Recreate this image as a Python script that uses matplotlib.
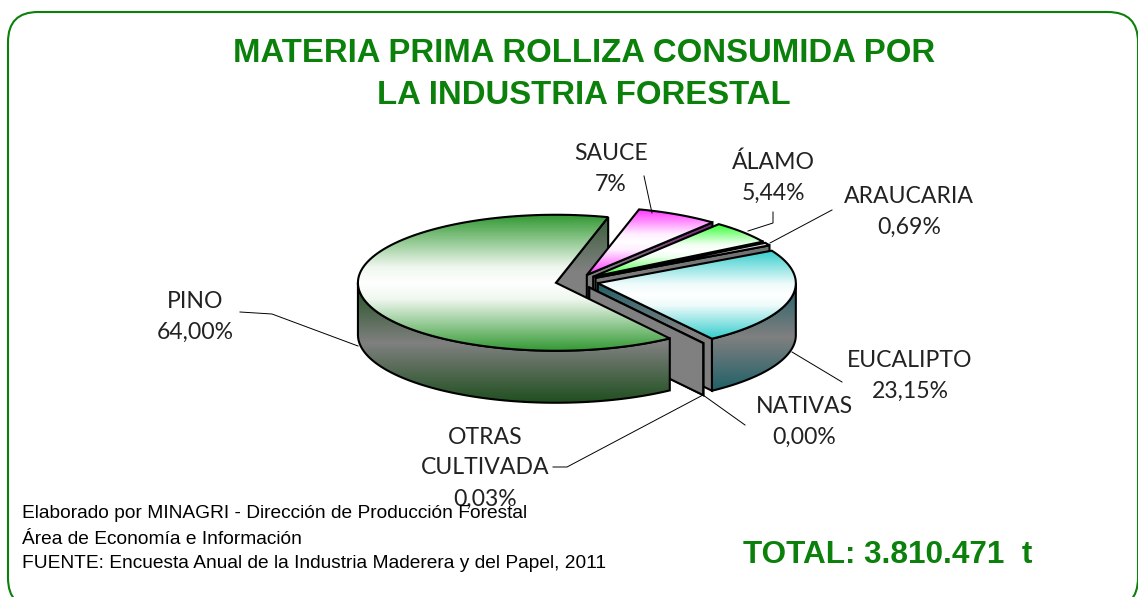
# -*- coding: utf-8 -*-
# exploded 3D pie, drawn by hand because matplotlib has no such pie type
import numpy as np
import matplotlib
matplotlib.use('Agg')
from matplotlib import pyplot as plt
from matplotlib.colors import to_rgb
from matplotlib.patches import Polygon, FancyBboxPatch

# slice order is clockwise, starting with pino
species = ['PINO', 'SAUCE', 'ÁLAMO', 'ARAUCARIA', 'EUCALIPTO', 'NATIVAS', 'OTRAS CULTIVADA']
shares = [64.00, 6.69, 5.44, 0.69, 23.15, 0.00, 0.03]
share_labels = ['64,00%', '7%', '5,44%', '0,69%', '23,15%', '0,00%', '0,03%']
top_colors = ['#339933', '#ff33ff', '#33ff33', '#cccccc', '#33cccc', '#808080', '#808080']
dark_colors = ['#1f4f1f', '#802080', '#208020', '#707070', '#1f6068', '#808080', '#808080']

title = ['MATERIA PRIMA ROLLIZA CONSUMIDA POR', 'LA INDUSTRIA FORESTAL']
total = 'TOTAL: 3.810.471  t'
footer = ['Elaborado por MINAGRI - Dirección de Producción Forestal',
          'Área de Economía e Información',
          'FUENTE: Encuesta Anual de la Industria Maderera y del Papel, 2011']

W, H = 1138, 597
cx, cy = 577.0, 281.5
a, b = 198.0, 68.0
depth = 52.0
explode = 0.108
start = 144.9

GREEN = '#0b800b'
GRAY = '#808080'

fig = plt.figure(figsize=(W / 100, H / 100), dpi=100)
ax = fig.add_axes([0, 0, 1, 1])
ax.set_xlim(0, W)
ax.set_ylim(H, 0)
ax.axis('off')

z = [10]


def next_z():
    z[0] += 1
    return z[0]


def rim(angle, x0, y0):
    t = np.radians(angle)
    return x0 + a * np.sin(t), y0 - b * np.cos(t)


def mix(col, amount):
    c = np.array(to_rgb(col))
    return tuple(c + (1 - c) * amount)


def fill_gradient(pts, stops, lw=1.5):
    # vertical gradient clipped to the polygon, then black outline
    pts = np.asarray(pts)
    y0, y1 = pts[:, 1].min(), pts[:, 1].max()
    pos = [s[0] for s in stops]
    cols = np.array([to_rgb(s[1]) for s in stops])
    u = np.linspace(0, 1, 256)
    img = np.stack([np.interp(u, pos, cols[:, i]) for i in range(3)], axis=1)[:, None, :]
    zo = next_z()
    im = ax.imshow(img, extent=(pts[:, 0].min(), pts[:, 0].max(), y1, y0),
                   aspect='auto', zorder=zo, interpolation='bilinear')
    poly = Polygon(pts, closed=True, fc='none', ec='black', lw=lw, zorder=zo + 0.5,
                   joinstyle='miter')
    ax.add_patch(poly)
    im.set_clip_path(poly)


def top_face(a1, a2, x0, y0, col):
    t = np.linspace(a1, a2, 120)
    xs, ys = rim(t, x0, y0)
    pts = np.vstack([[x0, y0], np.column_stack([xs, ys])])
    fill_gradient(pts, [(0, col), (0.38, mix(col, 0.92)), (0.5, '#ffffff'),
                        (0.62, mix(col, 0.92)), (1, col)])


def end_face(angle, x0, y0, dark):
    xr, yr = rim(angle, x0, y0)
    pts = [(x0, y0), (xr, yr), (xr, yr + depth), (x0, y0 + depth)]
    fill_gradient(pts, [(0, dark), (0.45, GRAY), (1, GRAY)])


def outer_wall(a1, a2, x0, y0, dark):
    # only the part of the rim facing the viewer
    lo, hi = max(a1, 90), min(a2, 270)
    if hi <= lo:
        return
    t = np.linspace(lo, hi, 120)
    xs, ys = rim(t, x0, y0)
    upper = np.column_stack([xs, ys])
    lower = np.column_stack([xs, ys + depth])[::-1]
    fill_gradient(np.vstack([upper, lower]), [(0, dark), (0.5, GRAY), (1, dark)])


# slice angles from the shares
edges = start + np.cumsum([0] + shares) * 3.6
slices = []
for i in range(len(shares)):
    a1, a2 = edges[i], edges[i + 1]
    if a1 >= 360:
        a1, a2 = a1 - 360, a2 - 360
    mid = np.radians((a1 + a2) / 2)
    x0 = cx + a * explode * np.sin(mid)
    y0 = cy - b * explode * np.cos(mid)
    slices.append((a1, a2, x0, y0))

# pino cut face goes behind the other slices
end_face(slices[0][1] - 360, slices[0][2], slices[0][3], '#3a5f3a')

for i in [1, 2, 3, 4, 5, 6]:
    a1, a2, x0, y0 = slices[i]
    end_face(a2, x0, y0, dark_colors[i])
    if a2 - a1 > 1:
        outer_wall(a1, a2, x0, y0, dark_colors[i])
        top_face(a1, a2, x0, y0, top_colors[i])

a1, a2, x0, y0 = slices[0]
outer_wall(a1, a2, x0, y0, dark_colors[0])
top_face(a1, a2, x0, y0, top_colors[0])

ax.set_xlim(0, W)
ax.set_ylim(H, 0)

# leader lines
leaders = [
    [(240, 312), (272, 314), (358, 346)],
    [(644, 176), (652, 213)],
    [(773, 212), (773, 223), (748, 231)],
    [(770, 243), (832, 210)],
    [(792, 352), (842, 382)],
    [(703, 395), (745, 425)],
    [(703, 395), (567, 467), (553, 467)],
]
for pts in leaders:
    xs, ys = zip(*pts)
    ax.plot(xs, ys, color='black', lw=0.7, zorder=60)

# slice labels
label_pos = [(195, 317), (611, 169), (773, 178), (909, 212), (910, 376), (804, 422), (485, 468)]
for i, name in enumerate(species):
    lines = name.split(' ')
    lines.append(share_labels[i])
    x, yc = label_pos[i]
    for k, line in enumerate(lines):
        ax.text(x, yc + (k - (len(lines) - 1) / 2) * 31, line, ha='center', va='center',
                fontsize=16.6, family='Lato', color='#222222', zorder=70)

# title and total
for k, line in enumerate(title):
    ax.text(584, 53 + k * 43, line, ha='center', va='center', fontsize=23.7, fontweight='bold',
            family='Liberation Sans', color=GREEN, zorder=70)
ax.text(888, 555, total, ha='center', va='center', fontsize=22.7, fontweight='bold',
        family='Liberation Sans', color=GREEN, zorder=70)

# source lines
for k, line in enumerate(footer):
    ax.text(22, 514 + k * 25, line, ha='left', va='center', fontsize=13.8,
            family='Liberation Sans', color='black', zorder=80)

# rounded border runs off the bottom of the picture
frame = FancyBboxPatch((8 + 30, 12 + 30), 1130 - 60, 596 - 60,
                       boxstyle='round,pad=30,rounding_size=30', fc='white', ec=GREEN,
                       lw=1.5, zorder=1, clip_on=True)
ax.add_patch(frame)

fig.savefig('out.png', dpi=100, facecolor='white')
